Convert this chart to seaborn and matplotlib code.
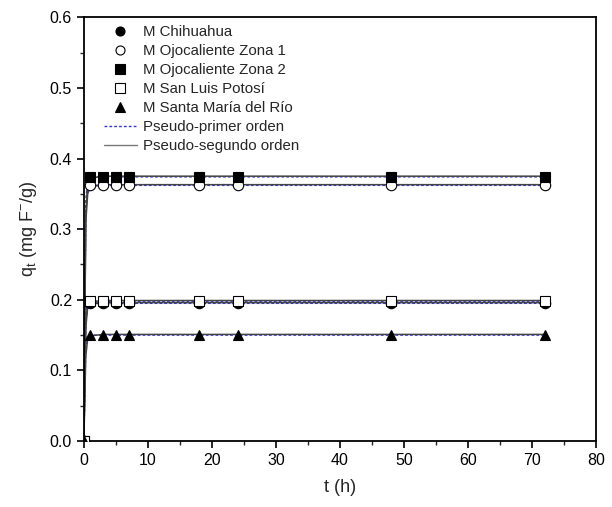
import matplotlib
matplotlib.use("Agg")
import matplotlib.pyplot as plt
import seaborn as sns
import numpy as np
import pandas as pd
from matplotlib.lines import Line2D
from matplotlib.ticker import MultipleLocator

sns.set_theme(style="white")
plt.rcParams['font.family'] = ['Liberation Sans', 'DejaVu Sans']
plt.rcParams['mathtext.fontset'] = 'custom'
plt.rcParams['mathtext.rm'] = 'Liberation Sans'

# Experimental data
t = [0, 1, 3, 5, 7, 18, 24, 48, 72]
q_chihuahua = [0, 0.195, 0.195, 0.195, 0.195, 0.195, 0.195, 0.195, 0.195]
q_ojo1 = [0, 0.362, 0.362, 0.362, 0.362, 0.362, 0.362, 0.362, 0.362]
q_ojo2 = [0, 0.374, 0.374, 0.374, 0.374, 0.374, 0.374, 0.374, 0.374]
q_slp = [0, 0.198, 0.198, 0.198, 0.198, 0.198, 0.198, 0.198, 0.198]
q_smr = [0, 0.150, 0.150, 0.150, 0.150, 0.150, 0.150, 0.150, 0.150]

# Fitted model curves
t_fit = [0, 0.3, 0.6, 1, 3, 5, 7, 18, 24, 48, 72]
pfo_chihuahua = [0, 0.17, 0.194, 0.195, 0.195, 0.195, 0.195, 0.195, 0.195, 0.195, 0.195]
pfo_ojo1 = [0, 0.33, 0.36, 0.362, 0.362, 0.362, 0.362, 0.362, 0.362, 0.362, 0.362]
pfo_ojo2 = [0, 0.34, 0.372, 0.374, 0.374, 0.374, 0.374, 0.374, 0.374, 0.374, 0.374]
pfo_slp = [0, 0.18, 0.197, 0.198, 0.198, 0.198, 0.198, 0.198, 0.198, 0.198, 0.198]
pfo_smr = [0, 0.13, 0.149, 0.150, 0.150, 0.150, 0.150, 0.150, 0.150, 0.150, 0.150]
pso_chihuahua = [0, 0.16, 0.19, 0.195, 0.196, 0.196, 0.196, 0.196, 0.196, 0.196, 0.196]
pso_ojo1 = [0, 0.31, 0.35, 0.36, 0.363, 0.363, 0.363, 0.363, 0.363, 0.363, 0.363]
pso_ojo2 = [0, 0.32, 0.365, 0.372, 0.375, 0.375, 0.375, 0.375, 0.375, 0.375, 0.375]
pso_slp = [0, 0.17, 0.193, 0.197, 0.199, 0.199, 0.199, 0.199, 0.199, 0.199, 0.199]
pso_smr = [0, 0.12, 0.145, 0.149, 0.151, 0.151, 0.151, 0.151, 0.151, 0.151, 0.151]

labels = ["M Chihuahua", "M Ojocaliente Zona 1", "M Ojocaliente Zona 2",
          "M San Luis Potosí", "M Santa María del Río"]
series = [q_chihuahua, q_ojo1, q_ojo2, q_slp, q_smr]
pfo = [pfo_chihuahua, pfo_ojo1, pfo_ojo2, pfo_slp, pfo_smr]
pso = [pso_chihuahua, pso_ojo1, pso_ojo2, pso_slp, pso_smr]
markers = ['o', 'o', 's', 's', '^']
faces = ['black', 'white', 'black', 'white', 'black']

fig = plt.figure(figsize=(6.12, 5.07), dpi=100)
ax = fig.add_axes([0.137, 0.130, 0.837, 0.836])

for yv in pfo:
    sns.lineplot(x=t_fit, y=yv, ax=ax, color='#3333dd', lw=1.0, ls=(0, (2, 1.5)), zorder=2)
for yv in pso:
    sns.lineplot(x=t_fit, y=yv, ax=ax, color='#444444', lw=1.1, zorder=2.5)

handles = []
for yv, lab, m, fc in zip(series, labels, markers, faces):
    ax.plot(t, yv, ls='none', marker=m, ms=7.5, mfc=fc, mec='black', mew=0.8, zorder=3)
    handles.append(Line2D([], [], ls='none', marker=m, ms=6.5, mfc=fc, mec='black', mew=0.8, label=lab))
handles.append(Line2D([], [], color='#3333dd', lw=1.0, ls=(0, (2, 1.5)), label='Pseudo-primer orden'))
handles.append(Line2D([], [], color='#777777', lw=1.0, label='Pseudo-segundo orden'))

ax.set_xlim(0, 80)
ax.set_ylim(0, 0.6)
ax.xaxis.set_major_locator(MultipleLocator(10))
ax.xaxis.set_minor_locator(MultipleLocator(5))
ax.yaxis.set_major_locator(MultipleLocator(0.1))
ax.yaxis.set_minor_locator(MultipleLocator(0.05))
ax.yaxis.set_major_formatter(matplotlib.ticker.FormatStrFormatter('%.1f'))
ax.tick_params(which='major', direction='out', length=5, width=1.2, labelsize=11.5,
               bottom=True, left=True, top=False, right=False, colors='black')
ax.tick_params(which='minor', direction='out', length=3, width=1.0,
               bottom=True, left=True, top=False, right=False)
for s in ax.spines.values():
    s.set_color('black')
    s.set_linewidth(1.3)

ax.set_xlabel('t (h)', fontsize=13, labelpad=8)
ax.set_ylabel(r'q$_\mathregular{t}$ (mg F$^\mathregular{-}$/g)', fontsize=13, labelpad=8)

leg = ax.legend(handles=handles, loc='upper left', bbox_to_anchor=(0.027, 0.995),
                frameon=False, fontsize=10.8, handlelength=2.2, handletextpad=0.4,
                labelspacing=0.33, borderaxespad=0.0)

fig.savefig('out.png', dpi=100)
